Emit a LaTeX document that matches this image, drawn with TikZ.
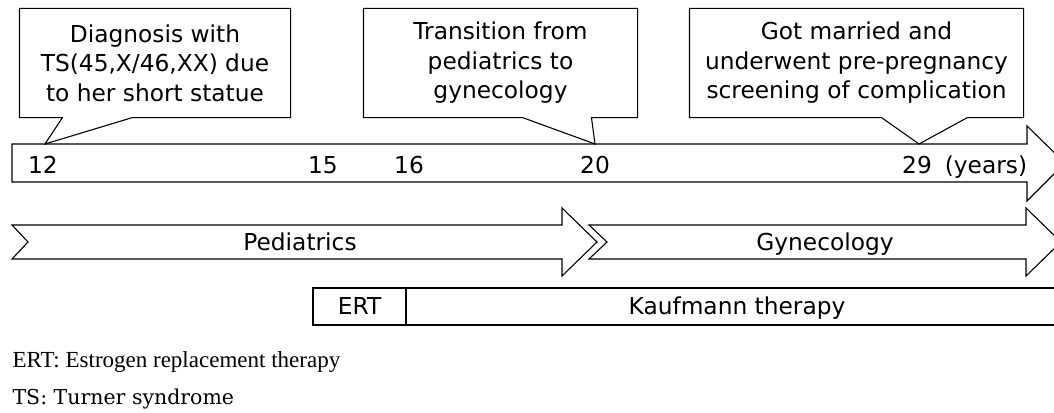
\documentclass[tikz,border=0pt]{standalone}
\usepackage{fontspec}
\setmainfont{DejaVu Sans}
\newfontfamily\notefont{Liberation Serif}
\newfontfamily\noteTSfont{DejaVu Serif}
\usetikzlibrary{calc}

\begin{document}
\begin{tikzpicture}[x=1pt,y=-1pt,line width=1.1pt,
    lbl/.style={font=\fontsize{23.3}{29.5}\selectfont,inner sep=0pt},
    callout/.style={lbl,align=center,minimum height=108pt},
    note/.style={inner sep=0pt,anchor=base west}]
    \useasboundingbox (0,0) rectangle (1054,412);
    \clip (0,0) rectangle (1054,412);
    %% timeline
    \draw (12,144) -- (1027,144) -- (1027,126) -- (1065,163) -- (1027,201) -- (1027,182) -- (12,182) -- cycle;
    \coordinate (t12) at (45,144);
    \coordinate (t20) at (595,144);
    \coordinate (t29) at (919,144);
    \foreach \yr/\x in {12/43,15/323,16/409,20/595,29/917}
        \node[lbl,anchor=base] (y\yr) at (\x,173) {\yr};
    \node[lbl,anchor=base] (unit) at (986,173) {(years)};
    %% events
    \node[callout,minimum width=270pt] (c1) at (155,63) {Diagnosis with\\TS(45,X/46,XX) due\\to her short statue};
    \node[callout,minimum width=273pt] (c2) at (500.5,63) {Transition from\\pediatrics to\\gynecology};
    \node[callout,minimum width=333pt] (c3) at (856.5,63) {Got married and\\underwent pre-pregnancy\\screening of complication};
    \draw (c1.south west) -- (c1.north west) -- (c1.north east) -- (c1.south east)
        -- ($(c1.south west)+(113,0)$) -- (t12) -- ($(c1.south west)+(43,0)$) -- cycle;
    \draw (c2.south west) -- (c2.north west) -- (c2.north east) -- (c2.south east)
        -- ($(c2.south west)+(228,0)$) -- (t20) -- ($(c2.south west)+(159,0)$) -- cycle;
    \draw (c3.south west) -- (c3.north west) -- (c3.north east) -- (c3.south east)
        -- ($(c3.south west)+(278,0)$) -- (t29) -- ($(c3.south west)+(192,0)$) -- cycle;
    %% departments
    \draw (12,225) -- (562,225) -- (562,208) -- (597,242) -- (562,276) -- (562,259) -- (12,259) -- (28,242) -- cycle;
    \draw (589,225) -- (1026,225) -- (1026,208) -- (1061,242) -- (1026,276) -- (1026,259) -- (589,259) -- (607,242) -- cycle;
    \node[lbl,anchor=base] (ped) at (300,250) {Pediatrics};
    \node[lbl,anchor=base] (gyn) at (825,250) {Gynecology};
    %% therapy
    \draw (313,288) rectangle (1068,325);
    \draw (406,288) -- (406,325);
    \node[lbl,anchor=base] (ert) at (359.5,314) {ERT};
    \node[lbl,anchor=base] (kauf) at (737,314) {Kaufmann therapy};
    %% notes
    \node[note,font=\notefont\fontsize{23}{28}\selectfont] (n1) at (12,367) {ERT: Estrogen replacement therapy};
    \node[note,font=\noteTSfont\fontsize{20.5}{26}\selectfont] (n2) at (12,404) {TS: Turner syndrome};
\end{tikzpicture}
\end{document}
